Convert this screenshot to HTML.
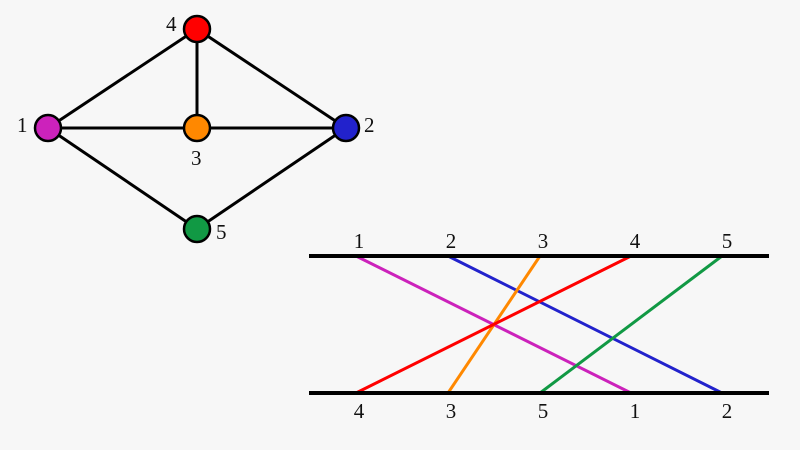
<!DOCTYPE html>
<html><head><meta charset="utf-8"><style>
html,body{margin:0;padding:0;background:#f7f7f7;}
svg{display:block}
text{font-family:"Liberation Serif",serif;font-size:21px;fill:#111}
</style></head><body>
<svg width="800" height="450" viewBox="0 0 800 450">
<rect width="800" height="450" fill="#f7f7f7"/>
<g stroke="#000" stroke-width="3">
<line x1="48" y1="128" x2="197" y2="29"/>
<line x1="197" y1="29" x2="346" y2="128"/>
<line x1="197" y1="29" x2="197" y2="128"/>
<line x1="48" y1="128" x2="346" y2="128"/>
<line x1="48" y1="128" x2="197" y2="229"/>
<line x1="346" y1="128" x2="197" y2="229"/>
</g>
<g stroke="#000" stroke-width="2.5">
<circle cx="197" cy="29" r="13" fill="#ff0000"/>
<circle cx="48" cy="128" r="13" fill="#cc22bb"/>
<circle cx="197" cy="128" r="13" fill="#ff8800"/>
<circle cx="346" cy="128" r="13" fill="#2222cc"/>
<circle cx="197" cy="229" r="13" fill="#119944"/>
</g>
<text x="166" y="31">4</text>
<text x="17" y="132">1</text>
<text x="191" y="165">3</text>
<text x="364" y="132">2</text>
<text x="216" y="239">5</text>
<g stroke-width="3">
<line x1="356" y1="256" x2="631" y2="393" stroke="#cc22bb"/>
<line x1="448" y1="256" x2="722" y2="393" stroke="#2222cc"/>
<line x1="540" y1="256" x2="448" y2="393" stroke="#ff8800"/>
<line x1="631" y1="256" x2="356" y2="393" stroke="#ff0000"/>
<line x1="722" y1="256" x2="540" y2="393" stroke="#119944"/>
</g>
<line x1="309" y1="256" x2="769" y2="256" stroke="#000" stroke-width="4"/>
<line x1="309" y1="393" x2="769" y2="393" stroke="#000" stroke-width="4"/>
<g text-anchor="middle">
<text x="359" y="248">1</text><text x="451" y="248">2</text><text x="543" y="248">3</text><text x="635" y="248">4</text><text x="727" y="248">5</text>
<text x="359" y="418">4</text><text x="451" y="418">3</text><text x="543" y="418">5</text><text x="635" y="418">1</text><text x="727" y="418">2</text>
</g>
</svg>
</body></html>
